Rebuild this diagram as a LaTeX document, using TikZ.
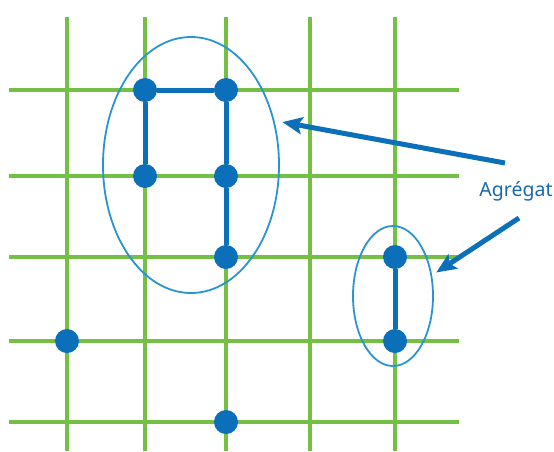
\documentclass[tikz,border=0pt]{standalone}
\usepackage{fontspec}
\setmainfont{Noto Sans}
\usetikzlibrary{arrows.meta,shapes.geometric}
\definecolor{gridgreen}{HTML}{74C045}
\definecolor{dotblue}{HTML}{0B6FBA}
\definecolor{ringblue}{HTML}{2A94D2}
\definecolor{textblue}{HTML}{1868B0}

\begin{document}
\begin{tikzpicture}[x=1pt, y=-1pt,
  gridline/.style={draw=gridgreen, line width=4pt},
  site/.style={circle, fill=dotblue, minimum size=24pt, inner sep=0pt},
  bond/.style={draw=dotblue, line width=5pt},
  cluster/.style={ellipse, draw=ringblue, line width=1.8pt, inner sep=0pt},
  pointer/.style={draw=dotblue, line width=5pt, -{Stealth[length=20pt, width=17pt, inset=4pt]}},
  tag/.style={font=\fontsize{19.5}{22}\selectfont, text=textblue, inner sep=0pt}
]
\useasboundingbox (0,0) rectangle (554,451);

% lattice
\foreach \x in {67,145,226,310,395} { \draw[gridline] (\x,17) -- (\x,451); }
\foreach \y in {90,176,257,341,422} { \draw[gridline] (9,\y) -- (459,\y); }

% clusters
\node[cluster, minimum width=176pt, minimum height=256pt] (big) at (191,165) {};
\node[cluster, minimum width=80pt, minimum height=140pt] (small) at (393,296) {};

% occupied sites
\node[site] (s1) at (145,90)  {};
\node[site] (s2) at (226,90)  {};
\node[site] (s3) at (145,176) {};
\node[site] (s4) at (226,176) {};
\node[site] (s5) at (226,257) {};
\node[site] (s6) at (395,257) {};
\node[site] (s7) at (395,341) {};
\node[site] (s8) at (67,341)  {};
\node[site] (s9) at (226,422) {};

\draw[bond] (s1) -- (s2);
\draw[bond] (s1) -- (s3);
\draw[bond] (s2) -- (s4);
\draw[bond] (s4) -- (s5);
\draw[bond] (s6) -- (s7);

% label and arrows
\node[tag] (agg) at (516,191) {Agrégat};
\coordinate (p1) at (505,163);
\coordinate (p2) at (519,218);
\draw[pointer, shorten >=8pt] (p1) -- (big.28);
\draw[pointer, shorten >=5pt] (p2) -- (small.28);
\end{tikzpicture}
\end{document}
